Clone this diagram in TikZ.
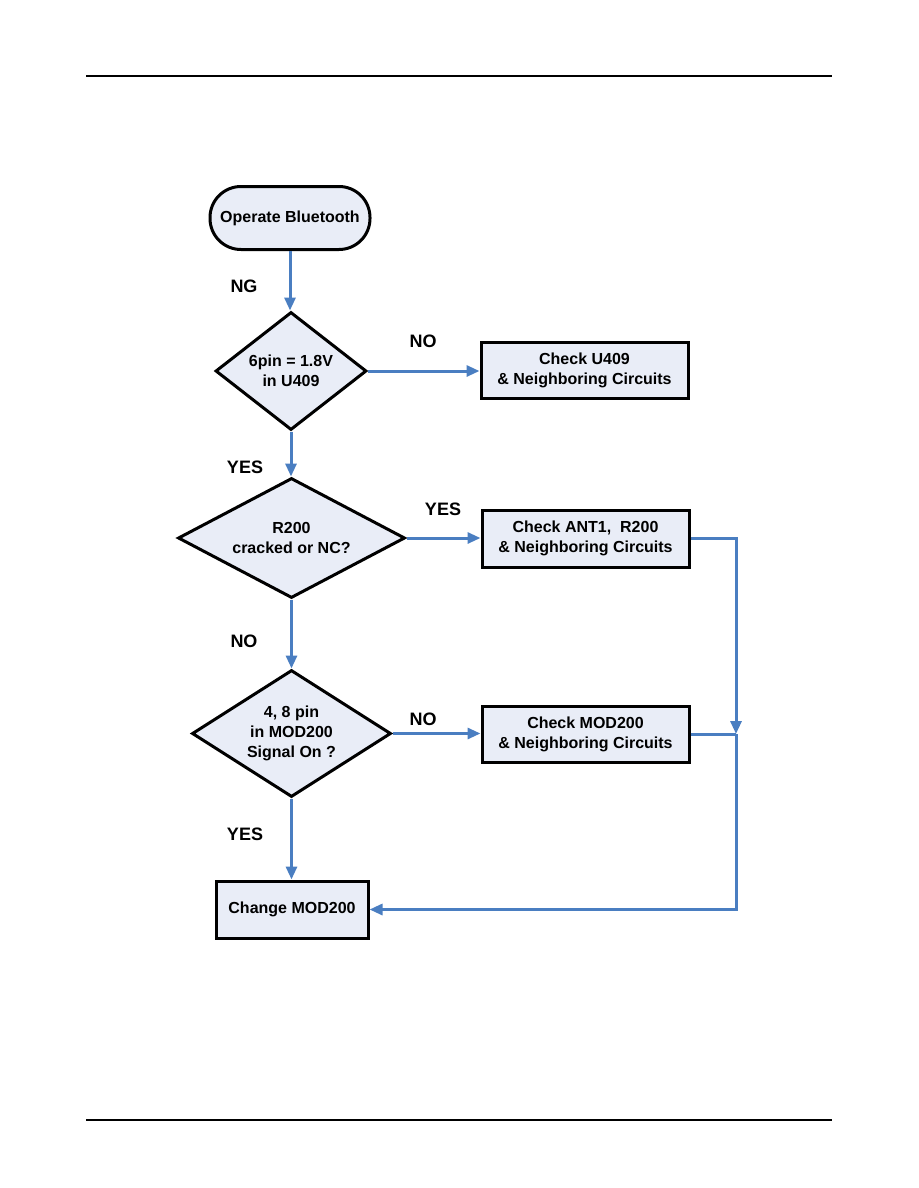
\documentclass[tikz,border=0pt]{standalone}
\usepackage{fontspec}
\setmainfont{Liberation Sans}
\usetikzlibrary{shapes.geometric,arrows.meta}
\definecolor{flow}{RGB}{74,126,193}
\definecolor{boxfill}{RGB}{233,237,247}
\begin{document}
\begin{tikzpicture}[x=1pt,y=-1pt,
  box/.style={draw=black,line width=3pt,fill=boxfill,inner sep=0pt,align=center,
    font=\bfseries\fontsize{16}{20}\selectfont},
  dec/.style={diamond,draw=black,line width=3pt,fill=boxfill,inner sep=0pt},
  dtxt/.style={align=center,inner sep=0pt,font=\bfseries\fontsize{16}{20}\selectfont},
  lbl/.style={inner sep=0pt,font=\bfseries\fontsize{18}{20}\selectfont},
  conn/.style={draw=flow,line width=3pt,-{Triangle[length=13pt,width=11pt]}},
  plain/.style={draw=flow,line width=3pt},
  rule/.style={draw=black,line width=1.4pt}]
\useasboundingbox (0,0) rectangle (918,1188);
\coordinate (hl) at (86,76);
\coordinate (hr) at (832,76);
\coordinate (fl) at (86,1120);
\coordinate (fr) at (832,1120);
\draw[rule] (hl) -- (hr);
\draw[rule] (fl) -- (fr);

\node[box,rounded corners=31pt,minimum width=160pt,minimum height=63pt] (start) at (290,218) {Operate Bluetooth};

\node[dec,minimum width=151pt,minimum height=118pt,label={[dtxt]center:6pin = 1.8V\\in U409}] (d1) at (291,371) {};
\node[box,minimum width=207pt,minimum height=56pt] (b1) at (584.5,370) {Check U409\\\& Neighboring Circuits};

\node[dec,minimum width=227pt,minimum height=120pt,label={[dtxt]center:R200\\cracked or NC?}] (d2) at (291.5,538) {};
\node[box,minimum width=207pt,minimum height=57pt] (b2) at (585.5,538.5) {Check ANT1,\ \ R200\\\& Neighboring Circuits};

\node[dec,minimum width=199pt,minimum height=127pt,label={[dtxt]center:4, 8 pin\\in MOD200\\Signal On ?}] (d3) at (291.5,733.5) {};
\node[box,minimum width=207pt,minimum height=56pt] (b3) at (585.5,734) {Check MOD200\\\& Neighboring Circuits};

\node[box,minimum width=152pt,minimum height=57pt] (b4) at (292,909.5) {Change MOD200};

\node[lbl] (lng) at (244,286) {NG};
\node[lbl] (lno1) at (423,341) {NO};
\node[lbl] (lyes1) at (245,467) {YES};
\node[lbl] (lyes2) at (443,509) {YES};
\node[lbl] (lno2) at (244,641) {NO};
\node[lbl] (lno3) at (423,719) {NO};
\node[lbl] (lyes3) at (245,834) {YES};

\coordinate (j) at (736,734);
\draw[conn] (start.south) -- (start.south |- d1.north);
\draw[conn] (d1.east) -- (b1.west |- d1.east);
\draw[conn] (d1.south) -- (d1.south |- d2.north);
\draw[conn] (d2.east) -- (b2.west |- d2.east);
\draw[conn] (d2.south) -- (d2.south |- d3.north);
\draw[conn] (d3.east) -- (b3.west |- d3.east);
\draw[conn] (d3.south) -- (d3.south |- b4.north);
\draw[conn] (b2.east) -| (j);
\draw[plain] (b3.east) -- (j);
\draw[conn] (j) |- (b4.east);
\end{tikzpicture}
\end{document}
